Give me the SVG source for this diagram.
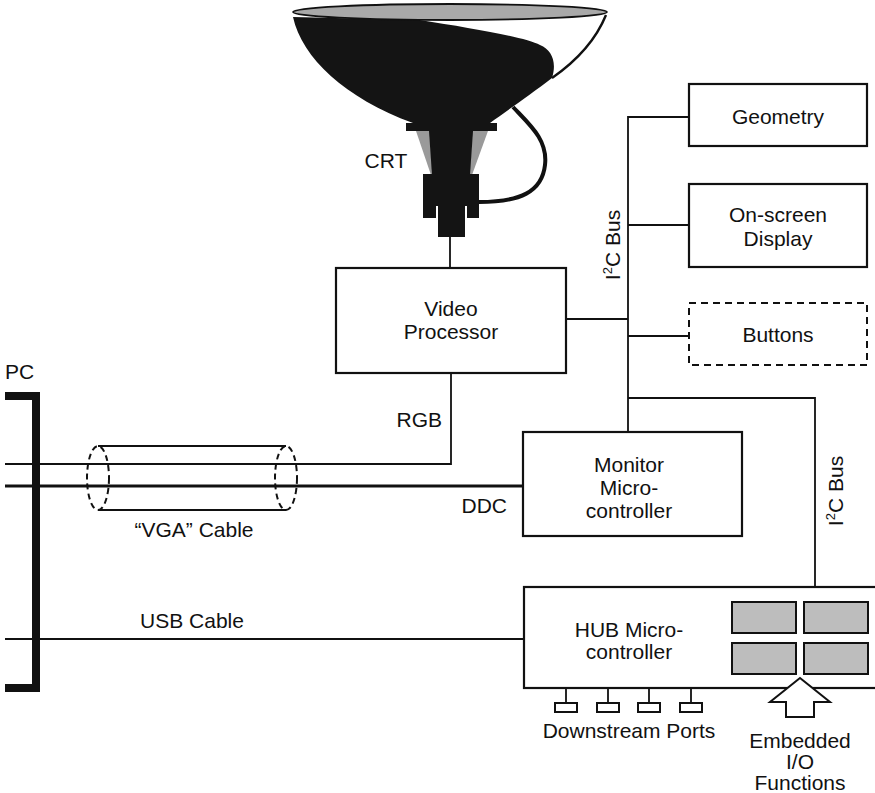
<svg xmlns="http://www.w3.org/2000/svg" width="875" height="793" viewBox="0 0 875 793">
  <defs>
    <style>
      text { font-family: "Liberation Sans", Arial, sans-serif; font-size: 21px; fill: #111; }
      .c { text-anchor: middle; }
      .e { text-anchor: end; }
      .box { fill: #fff; stroke: #111; stroke-width: 2.2; }
      .dash { fill: #fff; stroke: #111; stroke-width: 2; stroke-dasharray: 7 5; }
      .wire { fill: none; stroke: #111; stroke-width: 1.8; }
      .thick { fill: none; stroke: #111; stroke-width: 3; }
      .cell { fill: #bdbdbd; stroke: #111; stroke-width: 2; }
      .ink { fill: #141414; }
      .sup { font-size: 13px; }
    </style>
  </defs>

  <rect width="875" height="793" fill="#fff"/>

  <!-- Connectors -->
  <g id="connectors">
    <!-- I2C bus trunk and its branches -->
    <path class="wire" d="M689,117 H628 V432"/>
    <path class="wire" d="M628,225 H689"/>
    <path class="wire" d="M628,336 H689"/>
    <path class="wire" d="M566,319 H628"/>
    <path class="wire" d="M628,398 H815 V587"/>
    <!-- CRT to video processor -->
    <path class="wire" d="M450,237 V268"/>
    <!-- RGB lines from the PC -->
    <path class="wire" d="M5,464 H451 V373"/>
    <!-- DDC line -->
    <path class="thick" d="M5,486 H523"/>
    <!-- USB line -->
    <path class="wire" d="M5,639 H524"/>
  </g>

  <!-- PC bracket -->
  <g id="pc">
    <path d="M5,396 H36 V688 H5" fill="none" stroke="#111" stroke-width="8"/>
    <text x="5" y="379">PC</text>
  </g>

  <!-- VGA cable sleeve -->
  <g id="vga-cable">
    <path class="wire" d="M98,446 H286 M98,510 H286"/>
    <ellipse cx="98" cy="478" rx="11" ry="32" fill="none" stroke="#111" stroke-width="2" stroke-dasharray="6 4"/>
    <ellipse cx="286" cy="478" rx="11" ry="32" fill="none" stroke="#111" stroke-width="2" stroke-dasharray="6 4"/>
    <text class="c" x="194" y="537">“VGA” Cable</text>
  </g>

  <!-- Picture tube -->
  <g id="crt">
    <path class="ink" d="M293,17 C302,58 345,98 413,123 L490,123 C505,112 530,95 552,78 C557,62 552,50 540,45 C525,37 470,28 420,20 Z"/>
    <path d="M552,78 C575,62 595,42 606,15" fill="none" stroke="#111" stroke-width="2.4"/>
    <ellipse cx="450" cy="12" rx="157" ry="8" fill="#a9a9a9" stroke="#111" stroke-width="1.8"/>
    <rect class="ink" x="406" y="123" width="91" height="8"/>
    <polygon points="416,131 488,131 472,175 431,175" fill="#9a9a9a"/>
    <polygon class="ink" points="429,131 473,131 470,175 432,175"/>
    <rect class="ink" x="423" y="174" width="56" height="32"/>
    <rect class="ink" x="423" y="205" width="13" height="13"/>
    <rect class="ink" x="467" y="205" width="12" height="13"/>
    <rect class="ink" x="438" y="174" width="27" height="63"/>
    <path d="M513,107 C530,125 548,140 545,165 C542,192 520,202 479,202" fill="none" stroke="#111" stroke-width="4"/>
    <text class="c" x="386" y="168">CRT</text>
  </g>

  <g id="geometry">
    <rect class="box" x="689" y="84" width="178" height="62"/>
    <text class="c" x="778" y="124">Geometry</text>
  </g>

  <g id="osd">
    <rect class="box" x="689" y="184" width="178" height="83"/>
    <text class="c" x="778" y="222">On-screen</text>
    <text class="c" x="778" y="246">Display</text>
  </g>

  <g id="buttons">
    <rect class="dash" x="689" y="303" width="178" height="62"/>
    <text class="c" x="778" y="342">Buttons</text>
  </g>

  <g id="video-processor">
    <rect class="box" x="336" y="268" width="230" height="105"/>
    <text class="c" x="451" y="316">Video</text>
    <text class="c" x="451" y="339">Processor</text>
  </g>

  <g id="monitor-mcu">
    <rect class="box" x="523" y="432" width="219" height="104"/>
    <text class="c" x="629" y="472">Monitor</text>
    <text class="c" x="629" y="495">Micro-</text>
    <text class="c" x="629" y="518">controller</text>
  </g>

  <g id="hub-mcu">
    <rect class="box" x="524" y="587" width="360" height="101"/>
    <text class="c" x="629" y="637">HUB Micro-</text>
    <text class="c" x="629" y="659">controller</text>
    <rect class="cell" x="732" y="602" width="64" height="31"/>
    <rect class="cell" x="804" y="602" width="64" height="31"/>
    <rect class="cell" x="732" y="643" width="64" height="31"/>
    <rect class="cell" x="804" y="643" width="64" height="31"/>
  </g>

  <!-- Downstream ports -->
  <g id="ports">
    <path class="wire" d="M566,688 V703 M608,688 V703 M649,688 V703 M691,688 V703"/>
    <rect x="555" y="703" width="22" height="9" fill="#fff" stroke="#111" stroke-width="2"/>
    <rect x="597" y="703" width="22" height="9" fill="#fff" stroke="#111" stroke-width="2"/>
    <rect x="638" y="703" width="22" height="9" fill="#fff" stroke="#111" stroke-width="2"/>
    <rect x="680" y="703" width="22" height="9" fill="#fff" stroke="#111" stroke-width="2"/>
    <text class="c" x="629" y="738">Downstream Ports</text>
  </g>

  <!-- Embedded I/O pointer -->
  <g id="embedded-io">
    <polygon points="800,678 830,702 814,702 814,717 786,717 786,702 770,702" fill="#fff" stroke="#111" stroke-width="2" stroke-linejoin="miter"/>
    <text class="c" x="800" y="748">Embedded</text>
    <text class="c" x="800" y="769">I/O</text>
    <text class="c" x="800" y="790">Functions</text>
  </g>

  <!-- Signal labels -->
  <g id="labels">
    <text class="e" x="442" y="427">RGB</text>
    <text class="e" x="507" y="513">DDC</text>
    <text class="c" x="192" y="628">USB Cable</text>
    <text class="c" transform="translate(620,245) rotate(-90)">I<tspan class="sup" dy="-8">2</tspan><tspan dy="8">C Bus</tspan></text>
    <text class="c" transform="translate(843,491) rotate(-90)">I<tspan class="sup" dy="-8">2</tspan><tspan dy="8">C Bus</tspan></text>
  </g>
</svg>
